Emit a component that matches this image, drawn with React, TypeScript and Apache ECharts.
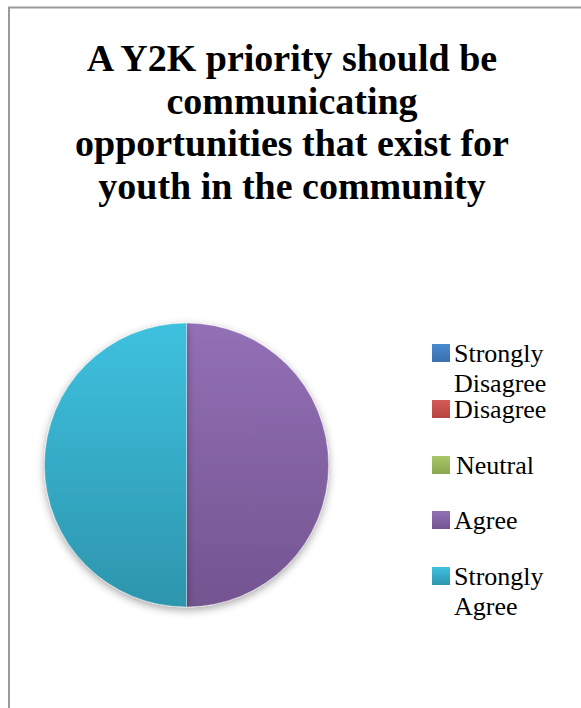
import React, { useEffect, useRef } from "react";
import * as echarts from "echarts";

const titleText = "A Y2K priority should be\ncommunicating\nopportunities that exist for\nyouth in the community";
const categories = ["Strongly Disagree", "Disagree", "Neutral", "Agree", "Strongly Agree"];
const legendLabels = ["Strongly\nDisagree", "Disagree", "Neutral", "Agree", "Strongly\nAgree"];
const values = [0, 0, 0, 1, 1];
const colorTops = ["#4A8AD0", "#D65A57", "#A9C868", "#9370B6", "#3EC1DF"];
const colorBottoms = ["#3A70AE", "#B54541", "#8AA64E", "#735490", "#2D95AD"];

const grad = (i: number) =>
  new echarts.graphic.LinearGradient(0, 0, 0, 1, [
    { offset: 0, color: colorTops[i] },
    { offset: 1, color: colorBottoms[i] },
  ]);

export default function App() {
  const ref = useRef<HTMLDivElement>(null);
  useEffect(() => {
    if (!ref.current) return;
    const chart = echarts.init(ref.current, null, { renderer: "svg" });
    const iconCenters = [353, 409, 465, 520, 576];
    const icon = 18;
    const legends = categories.map((name, i) => {
      const multi = legendLabels[i].includes("\n");
      // 3-line box (blank first line) keeps the icon beside the first real line
      const boxH = (multi ? 90 : 30) + 6;
      return {
        data: [name],
        orient: "vertical",
        left: 432,
        top: iconCenters[i] - boxH / 2,
        padding: 0,
        itemWidth: icon,
        itemHeight: icon,
        itemGap: 0,
        icon: "rect",
        selectedMode: false,
        itemStyle: { borderWidth: 0, shadowBlur: 0, shadowOffsetY: 0 },
        formatter: () => (multi ? " \n" + legendLabels[i] : legendLabels[i]),
        textStyle: {
          fontFamily: "Liberation Serif",
          fontSize: 26,
          color: "#000",
          lineHeight: 30,
          padding: [6, 0, 0, name === "Neutral" ? 1 : -1],
        },
      };
    });
    chart.setOption({
      animation: false,
      backgroundColor: "#fff",
      title: {
        text: titleText,
        left: 292,
        textAlign: "center",
        top: 37,
        padding: 0,
        textStyle: {
          fontFamily: "Liberation Serif",
          fontWeight: "bold",
          fontSize: 38,
          lineHeight: 42.5,
          color: "#000",
        },
      },
      legend: legends,
      graphic: [
        {
          type: "rect",
          shape: { x: 9, y: 7.5, width: 700, height: 800 },
          style: { fill: "none", stroke: "#9a9a9a", lineWidth: 2 },
          silent: true,
          z: -1,
        },
      ],
      series: [
        {
          type: "pie",
          center: [186.5, 465],
          radius: 142,
          startAngle: 90,
          clockwise: true,
          label: { show: false },
          labelLine: { show: false },
          emphasis: { disabled: true },
          itemStyle: {
            borderColor: "rgba(255,255,255,0.45)",
            borderWidth: 0.8,
            shadowBlur: 8,
            shadowOffsetY: 3,
            shadowColor: "rgba(0,0,0,0.35)",
          },
          data: categories.map((name, i) => ({
            name,
            value: values[i],
            itemStyle: { color: grad(i) },
          })),
        },
      ],
    });
    return () => chart.dispose();
  }, []);
  return (
    <div
      ref={ref}
      style={{ position: "fixed", left: 0, top: 0, width: 581, height: 708 }}
    />
  );
}
